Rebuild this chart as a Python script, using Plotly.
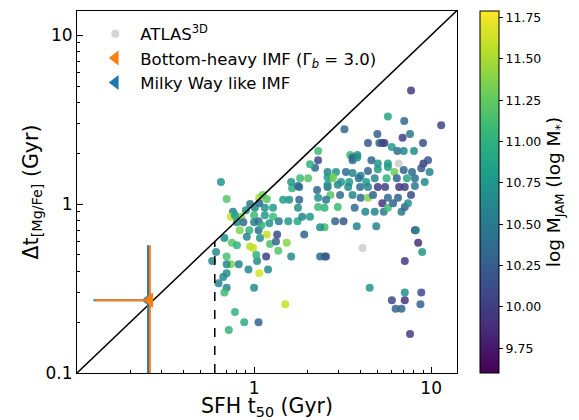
import numpy as np
import plotly.graph_objects as go

# ---- data ----
sfh_t50 = [
    7.7, 11.4, 5.7, 7.05, 3.24, 4.97, 7.6, 4.4, 5.1, 5.3, 5.45, 6.9, 9.0, 6.0, 6.45, 7.0, 8.0,
    3.49, 3.83, 3.6, 4.6, 5.0, 5.7, 9.05, 9.6,
    2.6, 2.9, 3.3, 3.6, 4.0, 4.4, 5.0, 5.7, 6.2, 7.0, 7.8, 8.8, 9.8,
    2.75, 3.1, 3.45, 3.9, 4.3, 4.8, 5.6, 6.4, 7.3, 8.1, 9.2,
    2.6, 2.97, 3.4, 3.97, 4.4, 5.0, 5.5, 6.6, 7.1, 8.1,
    2.7, 3.06, 3.6, 4.0, 4.4, 4.7, 5.7, 6.5, 7.7,
    2.5, 2.97, 3.7, 4.25, 4.8, 5.3, 5.4, 5.7, 6.1, 6.8, 7.1, 7.4,
    2.87, 3.2, 3.8, 4.9, 8.1, 8.2, 8.45, 8.9, 2.5,
    2.5, 7.1, 4.5, 7.1, 8.8, 6.0, 7.1, 8.7, 6.3, 6.8, 7.6,
    0.65, 0.70, 0.76, 0.74, 0.85, 1.07, 1.12, 1.18, 1.07, 1.15, 1.28, 1.01, 1.0, 1.15, 1.28,
    0.87, 0.80, 1.0, 1.06, 1.22, 1.38, 0.94, 0.83, 1.06, 1.18, 1.35, 1.53, 0.68, 0.75, 0.80,
    0.95, 0.99, 1.23, 1.33, 1.08, 0.91, 1.58, 1.46, 1.80, 1.64, 1.80, 1.82, 2.02, 2.21, 2.27,
    1.77, 1.56, 1.76, 1.92, 2.3, 2.3, 2.55, 2.07, 1.87, 2.36, 2.6, 2.6,
    0.61, 0.58, 0.70, 0.74, 0.70, 0.70, 0.82, 0.93, 1.04, 1.03, 1.07, 1.17, 1.2, 0.67, 0.63,
    0.70, 0.68, 1.0, 1.62, 2.36, 2.55, 1.5, 0.78, 0.88, 1.06, 0.72, 1.37,
    2.3, 2.3, 2.07, 1.62, 1.77, 2.8, 3.6, 3.83,
    0.90, 0.95, 0.78, 1.10,
]
dt_mgfe = [
    4.7, 2.93, 3.3, 3.1, 2.77, 2.6, 2.6, 2.3, 2.3, 2.3, 2.3, 2.47, 2.3, 2.18, 2.06, 2.06, 2.06,
    1.95, 1.95, 1.82, 1.82, 1.74, 1.74, 1.74, 1.82,
    1.55, 1.55, 1.55, 1.53, 1.47, 1.57, 1.61, 1.66, 1.55, 1.59, 1.55, 1.63, 1.55,
    1.42, 1.35, 1.35, 1.42, 1.35, 1.42, 1.42, 1.42, 1.42, 1.42, 1.35,
    1.26, 1.30, 1.26, 1.26, 1.26, 1.26, 1.26, 1.26, 1.26, 1.28,
    1.13, 1.13, 1.13, 1.09, 1.09, 1.13, 1.09, 1.09, 1.13,
    0.95, 0.96, 0.95, 0.90, 0.90, 1.01, 0.90, 0.95, 1.01, 0.90, 0.96, 1.01,
    0.79, 0.79, 0.74, 0.74, 0.70, 0.70, 0.59, 0.52, 0.73,
    0.49, 0.46, 0.32, 0.30, 0.30, 0.27, 0.27, 0.255, 0.24, 0.24, 0.17,
    1.35, 1.07, 0.90, 0.84, 0.84, 1.09, 1.13, 1.07, 1.01, 0.95, 0.95, 0.95, 0.86, 0.86, 0.84,
    0.78, 0.78, 0.78, 0.79, 0.77, 0.79, 0.70, 0.70, 0.70, 0.66, 0.66, 0.59, 0.63, 0.59, 0.57,
    0.56, 0.55, 0.58, 0.60, 0.63, 0.64, 1.06, 1.06, 1.06, 1.24, 1.26, 1.42, 1.42, 1.64, 1.21,
    0.95, 0.79, 0.79, 0.66, 1.09, 0.96, 1.06, 0.84, 0.84, 0.73, 1.44, 1.30,
    0.52, 0.46, 0.49, 0.44, 0.44, 0.39, 0.44, 0.41, 0.46, 0.50, 0.39, 0.49, 0.41, 0.37, 0.34,
    0.32, 0.30, 0.32, 0.49, 0.49, 0.49, 0.255, 0.23, 0.20, 0.20, 0.18, 0.53,
    2.06, 1.82, 1.72, 1.35, 1.28, 1.44, 1.89, 1.89,
    0.92, 1.00, 0.86, 0.75,
]
log_mjam = [
    10.0, 10.05, 10.9, 10.35, 10.35, 10.25, 10.45, 10.2, 10.3, 10.1, 10.05, 10.0, 10.15, 10.8, 10.4, 10.6, 10.65,
    11.1, 10.7, 10.35, 10.3, 10.75, 10.8, 10.0, 10.2,
    10.6, 10.7, 10.4, 10.6, 10.6, 10.3, 10.75, 10.8, 11.3, 10.3, 10.35, 10.2, 10.6,
    11.35, 10.75, 10.8, 10.4, 10.8, 10.6, 11.0, 10.3, 10.9, 10.4, 10.65,
    10.3, 10.65, 10.6, 10.4, 10.6, 10.0, 10.05, 9.95, 10.0, 10.5,
    11.2, 10.35, 10.6, 10.35, 11.35, 10.3, 10.35, 10.3, 10.1,
    11.0, 11.1, 10.35, 10.6, 10.6, 9.9, 10.5, 11.1, 10.3, 10.5, 10.3, 10.7,
    10.3, 10.2, 10.6, 10.6, 9.9, 10.65, 9.9, 10.75, 11.1,
    10.3, 10.0, 10.75, 10.7, 10.1, 10.1, 9.95, 10.3, 10.3, 10.3, 10.0,
    10.75, 11.2, 10.6, 11.6, 11.4, 11.5, 11.3, 11.2, 10.3, 10.7, 10.8, 10.6, 11.1, 10.8, 11.1,
    10.35, 10.7, 10.6, 10.35, 10.75, 10.5, 11.0, 11.35, 10.4, 11.6, 10.1, 11.4, 10.7, 11.2, 11.0,
    11.55, 11.6, 11.15, 10.3, 10.7, 10.6, 10.7, 10.8, 10.3, 11.0, 10.35, 11.1, 11.2, 10.35, 10.3,
    10.7, 10.75, 10.9, 10.3, 10.7, 11.1, 10.45, 10.75, 10.6, 10.7, 10.8, 10.75,
    10.65, 10.6, 11.15, 11.35, 10.65, 10.7, 10.6, 10.6, 10.65, 11.0, 11.65, 10.05, 10.65, 10.65, 10.6,
    10.6, 11.1, 10.65, 10.65, 10.4, 10.2, 11.6, 11.0, 10.95, 10.3, 11.05, 11.2,
    11.1, 10.1, 11.0, 10.75, 10.35, 11.3, 10.3, 10.7,
    10.7, 10.5, 10.8, 11.0,
]

atlas_t50 = [6.55, 4.1]
atlas_dt = [1.74, 0.55]

mw_t50 = [0.252]
mw_dt = [0.27]
mw_xerr_minus = [0.128]
mw_yerr_plus = [0.30]
mw_yerr_minus = [0.265]

bh_t50 = [0.258]
bh_dt = [0.27]
bh_xerr_minus = [0.131]
bh_yerr_plus = [0.30]
bh_yerr_minus = [0.265]

one_to_one = [0.1, 14.0]
t50_limit = [0.6, 0.6]
t50_limit_y = [0.1, 0.6]

x_range = [0.1, 14.0]
y_range = [0.1, 13.9]
cb_ticks = [9.75, 10.0, 10.25, 10.5, 10.75, 11.0, 11.25, 11.5, 11.75]
c_range = [9.6, 11.79]

FONT = "DejaVu Sans"

fig = go.Figure()

fig.add_trace(go.Scatter(
    x=atlas_t50, y=atlas_dt, mode="markers", name="ATLAS<sup>3D</sup>",
    marker=dict(color="#d3d3d3", size=8), legendrank=1,
))

fig.add_trace(go.Scatter(
    x=sfh_t50, y=dt_mgfe, mode="markers", showlegend=False,
    marker=dict(
        color=log_mjam, colorscale="Viridis", cmin=c_range[0], cmax=c_range[1],
        size=8, opacity=0.85, line=dict(width=0),
        colorbar=dict(
            thickness=19, len=1, lenmode="fraction", y=0.5, yanchor="middle",
            x=1.0605, xanchor="left", xpad=0, ypad=0,
            outlinewidth=1, outlinecolor="black",
            ticks="outside", ticklen=4, tickcolor="black",
            tickvals=cb_ticks, ticktext=[f"{v:.2f}" for v in cb_ticks],
            tickfont=dict(family=FONT, size=12.5, color="black"),
            title=dict(text="log M<sub>JAM</sub> (log M<sub>*</sub>)", side="right",
                       font=dict(family=FONT, size=18.5, color="black")),
        ),
    ),
))

fig.add_trace(go.Scatter(
    x=one_to_one, y=one_to_one, mode="lines", showlegend=False,
    line=dict(color="black", width=1.5),
))
fig.add_trace(go.Scatter(
    x=t50_limit, y=t50_limit_y, mode="lines", showlegend=False,
    line=dict(color="black", width=1.5, dash="dash"),
))

fig.add_trace(go.Scatter(
    x=mw_t50, y=mw_dt, mode="markers", name="Milky Way like IMF", legendrank=3,
    marker=dict(symbol="triangle-left", color="#1f77b4", size=13),
    error_x=dict(type="data", symmetric=False, array=[0], arrayminus=mw_xerr_minus,
                 color="#1f77b4", thickness=2, width=0),
    error_y=dict(type="data", symmetric=False, array=mw_yerr_plus, arrayminus=mw_yerr_minus,
                 color="#1f77b4", thickness=2, width=0),
))
fig.add_trace(go.Scatter(
    x=bh_t50, y=bh_dt, mode="markers", name="Bottom-heavy IMF (Γ<sub><i>b</i></sub> = 3.0)",
    legendrank=2,
    marker=dict(symbol="triangle-left", color="#ff7f0e", size=13),
    error_x=dict(type="data", symmetric=False, array=[0], arrayminus=bh_xerr_minus,
                 color="#ff7f0e", thickness=2, width=0),
    error_y=dict(type="data", symmetric=False, array=bh_yerr_plus, arrayminus=bh_yerr_minus,
                 color="#ff7f0e", thickness=2, width=0),
))

minor_vals = [m * 10.0 ** e for e in (-1, 0, 1) for m in range(2, 10)]

axis_common = dict(
    type="log", showgrid=False, zeroline=False, automargin=False,
    showline=True, linecolor="black", linewidth=1, mirror=True,
    ticks="inside", ticklen=6, tickwidth=1, tickcolor="black",
    tickfont=dict(family=FONT, size=17, color="black"),
    minor=dict(ticks="inside", ticklen=3, tickwidth=1, tickcolor="black", tickvals=minor_vals),
)

fig.update_xaxes(
    **axis_common,
    range=[np.log10(x_range[0]), np.log10(x_range[1])],
    tickvals=[1, 10], ticktext=["1", "10"],
    title=dict(text="SFH t<sub>50</sub> (Gyr)", font=dict(family=FONT, size=20.5, color="black"),
               standoff=4),
)
fig.update_yaxes(
    **axis_common,
    range=[np.log10(y_range[0]), np.log10(y_range[1])],
    tickvals=[0.1, 1, 10], ticktext=["0.1", "1", "10"],
    title=dict(text="Δt<sub>[Mg/Fe]</sub> (Gyr)", font=dict(family=FONT, size=20.5, color="black"),
               standoff=1),
)

fig.update_layout(
    width=579, height=420,
    margin=dict(l=77, r=122, t=11, b=47, autoexpand=False),
    paper_bgcolor="white", plot_bgcolor="white",
    font=dict(family=FONT, color="black"),
    legend=dict(x=0.035, y=0.985, xanchor="left", yanchor="top",
                bgcolor="rgba(0,0,0,0)", borderwidth=0,
                font=dict(family=FONT, size=16.5, color="black"),
                tracegroupgap=2, itemwidth=40),
)

fig.write_html("out.html", config={"displayModeBar": False},
               post_script="document.body.style.margin='0px';")
